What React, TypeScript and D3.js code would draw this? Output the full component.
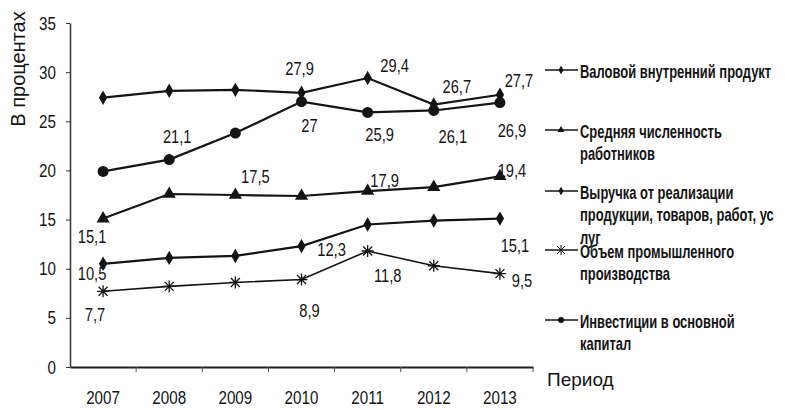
import React, { useEffect, useRef } from 'react';
import * as d3 from 'd3';

const years = ['2007', '2008', '2009', '2010', '2011', '2012', '2013'];
const yTicks = [0, 5, 10, 15, 20, 25, 30, 35];

const seriesNames = [
  'Валовой внутренний продукт',
  'Средняя численность работников',
  'Выручка от реализации продукции, товаров, работ, ус луг',
  'Объем промышленного производства',
  'Инвестиции в основной капитал',
];

const gdp = [27.4, 28.1, 28.2, 27.9, 29.4, 26.7, 27.7];
const employees = [15.1, 17.6, 17.5, 17.4, 17.9, 18.3, 19.4];
const revenue = [10.5, 11.1, 11.3, 12.3, 14.5, 14.9, 15.1];
const industry = [7.7, 8.2, 8.6, 8.9, 11.8, 10.3, 9.5];
const investment = [19.9, 21.1, 23.8, 27, 25.9, 26.1, 26.9];

// which points carry a value label: [series, year index]
const labeledPoints = [
  [0, 3], [0, 4], [0, 5], [0, 6],
  [1, 0], [1, 2], [1, 4], [1, 6],
  [2, 0], [2, 3], [2, 6],
  [3, 0], [3, 3], [3, 4], [3, 6],
  [4, 1], [4, 3], [4, 4], [4, 5], [4, 6],
];
// label offsets from the point, same order as labeledPoints
const labelOffsets = [
  [-2, -18], [27, -6], [23, -12], [19, -8],
  [-11, 24], [20, -12], [17, -4], [12, 1],
  [-11, 16], [30, 10], [15, 33],
  [-8, 30], [8, 37], [20, 31], [22, 13],
  [8, -17], [8, 30], [12, 29], [19, 33], [12, 34],
];
// legend text lines per series
const legendLines = [
  ['Валовой внутренний продукт'],
  ['Средняя численность', 'работников'],
  ['Выручка от реализации', 'продукции, товаров, работ, ус', 'луг'],
  ['Объем промышленного', 'производства'],
  ['Инвестиции в основной', 'капитал'],
];
const legendY = [70, 130, 191, 250, 320];

const SANS = '"Liberation Sans", Arial, sans-serif';
const INK = '#141414';

// condensed text: Liberation Sans squeezed horizontally around its anchor
function narrowText(parent, x, y, str, size, sx, anchor = 'start', weight = 'normal') {
  return parent.append('text')
    .attr('transform', `translate(${x},${y}) scale(${sx},1)`)
    .attr('text-anchor', anchor)
    .attr('font-family', SANS).attr('font-size', size).attr('font-weight', weight)
    .attr('fill', INK)
    .text(str);
}

function drawMarker(g, kind, x, y) {
  if (kind === 'diamond') {
    g.append('path').attr('d', d3.symbol(d3.symbolDiamond, 60)()).attr('transform', `translate(${x},${y})`).attr('fill', INK);
  } else if (kind === 'triangle') {
    g.append('path').attr('d', d3.symbol(d3.symbolTriangle, 75)()).attr('transform', `translate(${x},${y})`).attr('fill', INK);
  } else if (kind === 'circle') {
    g.append('circle').attr('cx', x).attr('cy', y).attr('r', 5.5).attr('fill', INK);
  } else {
    const s = 6;
    g.append('path')
      .attr('d', `M${x - s},${y}H${x + s}M${x},${y - s}V${y + s}M${x - 4.5},${y - 4.5}L${x + 4.5},${y + 4.5}M${x - 4.5},${y + 4.5}L${x + 4.5},${y - 4.5}`)
      .attr('stroke', INK).attr('stroke-width', 1.3).attr('fill', 'none');
  }
}

export default function App() {
  const ref = useRef(null);

  useEffect(() => {
    const svg = d3.select(ref.current);
    svg.selectAll('*').remove();

    const all = [gdp, employees, revenue, industry, investment];
    const markers = ['diamond', 'triangle', 'diamond', 'star', 'circle'];

    const x = d3.scaleBand().domain(years).range([70, 533]);
    const y = d3.scaleLinear().domain([0, 35]).range([367, 23]);
    const cx = (i) => x(years[i]) + x.bandwidth() / 2;

    // y axis
    const yAxis = svg.append('g')
      .attr('transform', 'translate(70,0)')
      .call(d3.axisLeft(y).tickValues(yTicks).tickSize(4).tickFormat(() => '').tickSizeOuter(0));
    yAxis.select('.domain').attr('stroke', '#333').attr('stroke-width', 1.5);
    yAxis.selectAll('line').attr('stroke', '#333');
    yTicks.forEach((t) => narrowText(svg, 56, y(t) + 6.5, String(t), 19, 0.8, 'end'));

    // x axis
    const xAxis = svg.append('g')
      .attr('transform', 'translate(0,367)')
      .call(d3.axisBottom(x).tickSize(0).tickFormat(() => '').tickSizeOuter(0));
    xAxis.select('.domain').attr('stroke', '#222').attr('stroke-width', 2);
    const edges = years.slice(1).map((yr) => x(yr)).concat([533]);
    xAxis.selectAll('.edge').data(edges).join('line')
      .attr('x1', (d) => d).attr('x2', (d) => d).attr('y1', 0).attr('y2', 5)
      .attr('stroke', '#555').attr('stroke-width', 1);
    years.forEach((yr, i) => narrowText(svg, cx(i), 404, yr, 19, 0.8, 'middle'));

    // axis titles
    svg.append('text')
      .attr('transform', 'translate(25,69) rotate(-90)')
      .attr('text-anchor', 'middle')
      .attr('font-family', SANS).attr('font-size', 20).attr('fill', INK)
      .text('В процентах');
    svg.append('text')
      .attr('x', 547).attr('y', 386)
      .attr('font-family', SANS).attr('font-size', 19).attr('fill', INK)
      .text('Период');

    // lines
    const line = d3.line().x((d, i) => cx(i)).y((d) => y(d));
    all.forEach((vals, s) => {
      const g = svg.append('g');
      g.append('path').attr('d', line(vals)).attr('fill', 'none')
        .attr('stroke', INK).attr('stroke-width', s === 3 ? 1.6 : 2.2);
      vals.forEach((v, i) => drawMarker(g, markers[s], cx(i), y(v)));
    });

    // value labels
    labeledPoints.forEach(([s, i], k) => {
      const v = all[s][i];
      narrowText(svg, cx(i) + labelOffsets[k][0], y(v) + labelOffsets[k][1],
        String(v).replace('.', ','), 17.5, 0.84, 'middle');
    });

    // legend
    seriesNames.forEach((name, s) => {
      const g = svg.append('g').attr('transform', `translate(0,${legendY[s]})`);
      g.append('line').attr('x1', 545).attr('x2', 578).attr('y1', 0).attr('y2', 0)
        .attr('stroke', INK).attr('stroke-width', 1.6);
      if (markers[s] === 'circle') g.append('circle').attr('cx', 561).attr('cy', 0).attr('r', 3).attr('fill', INK);
      else if (markers[s] === 'star') {
        g.append('path').attr('d', 'M557,-4L565,4M557,4L565,-4M561,-5V5').attr('stroke', INK).attr('stroke-width', 1);
      } else {
        g.append('path').attr('d', d3.symbol(markers[s] === 'triangle' ? d3.symbolTriangle : d3.symbolDiamond, 22)())
          .attr('transform', 'translate(561,0)').attr('fill', INK);
      }
      legendLines[s].forEach((ln, j) => {
        narrowText(g, 580, 7.5 + j * 22.5, ln, 17.5, 0.74, 'start', 'bold');
      });
    });
  }, []);

  return (
    <svg ref={ref} width={785} height={410}
      style={{ position: 'absolute', left: 0, top: 0, background: '#fff' }} />
  );
}
